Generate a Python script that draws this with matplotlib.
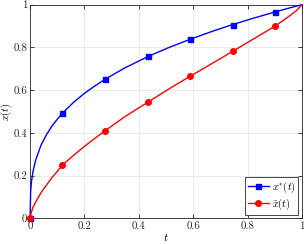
import numpy as np
import matplotlib
matplotlib.use("Agg")
import matplotlib.pyplot as plt

plt.rcParams["font.family"] = "serif"
plt.rcParams["font.serif"] = ["cmr10", "DejaVu Serif"]
plt.rcParams["mathtext.fontset"] = "cm"
plt.rcParams["axes.formatter.use_mathtext"] = True

# values
t = [0, 0.002, 0.005, 0.01, 0.02, 0.04, 0.06, 0.08, 0.1, 0.119, 0.16, 0.2, 0.24,
     0.276, 0.35, 0.435, 0.51, 0.589, 0.67, 0.746, 0.82, 0.902, 0.95, 0.98, 1.0]
x_star = [0, 0.126, 0.171, 0.215, 0.271, 0.342, 0.391, 0.431, 0.464, 0.492, 0.543,
          0.585, 0.621, 0.651, 0.705, 0.758, 0.799, 0.838, 0.875, 0.907, 0.936,
          0.966, 0.983, 0.993, 1.0]
x_bar = [0, 0.016, 0.03, 0.05, 0.075, 0.12, 0.155, 0.19, 0.22, 0.25, 0.295, 0.337,
         0.376, 0.41, 0.477, 0.545, 0.605, 0.665, 0.725, 0.782, 0.838, 0.90,
         0.943, 0.972, 1.0]
marker_idx = [0, 9, 13, 15, 17, 19, 21]

ticks = [0, 0.2, 0.4, 0.6, 0.8, 1]
tick_labels = ["0", "0.2", "0.4", "0.6", "0.8", "1"]

fig = plt.figure(figsize=(3.04, 2.44), dpi=100)
ax = fig.add_axes([0.099, 0.105, 0.894, 0.876])

ax.plot(t, x_star, color="blue", lw=1.0, marker="s", ms=3.6,
        markevery=marker_idx, label=r"$x^{*}(t)$", clip_on=False, zorder=3)
ax.plot(t, x_bar, color="red", lw=1.0, marker="o", ms=4.0,
        markevery=marker_idx, label=r"$\bar{x}(t)$", clip_on=False, zorder=4)

ax.set_xlim(0, 1)
ax.set_ylim(0, 1)
ax.set_xticks(ticks)
ax.set_yticks(ticks)
ax.set_xticklabels(tick_labels)
ax.set_yticklabels(tick_labels)
ax.tick_params(direction="in", top=True, right=True, labelsize=7.8,
               length=3, width=0.6, colors="#262626", pad=2)
ax.grid(True, color="#e6e6e6", lw=0.6)
for s in ax.spines.values():
    s.set_color("#262626")
    s.set_linewidth(0.6)

ax.set_xlabel(r"$t$", fontsize=8.5, labelpad=1)
ax.set_ylabel(r"$x(t)$", fontsize=7.5)
ax.yaxis.set_label_coords(-0.06, 0.5)

leg = ax.legend(loc="lower right", fontsize=7.5, fancybox=False, framealpha=1,
                edgecolor="#262626", handlelength=2.0, borderpad=0.25,
                labelspacing=0.15, handletextpad=0.3, borderaxespad=0.35)
leg.get_frame().set_linewidth(0.6)

fig.savefig("out.png", dpi=100)
